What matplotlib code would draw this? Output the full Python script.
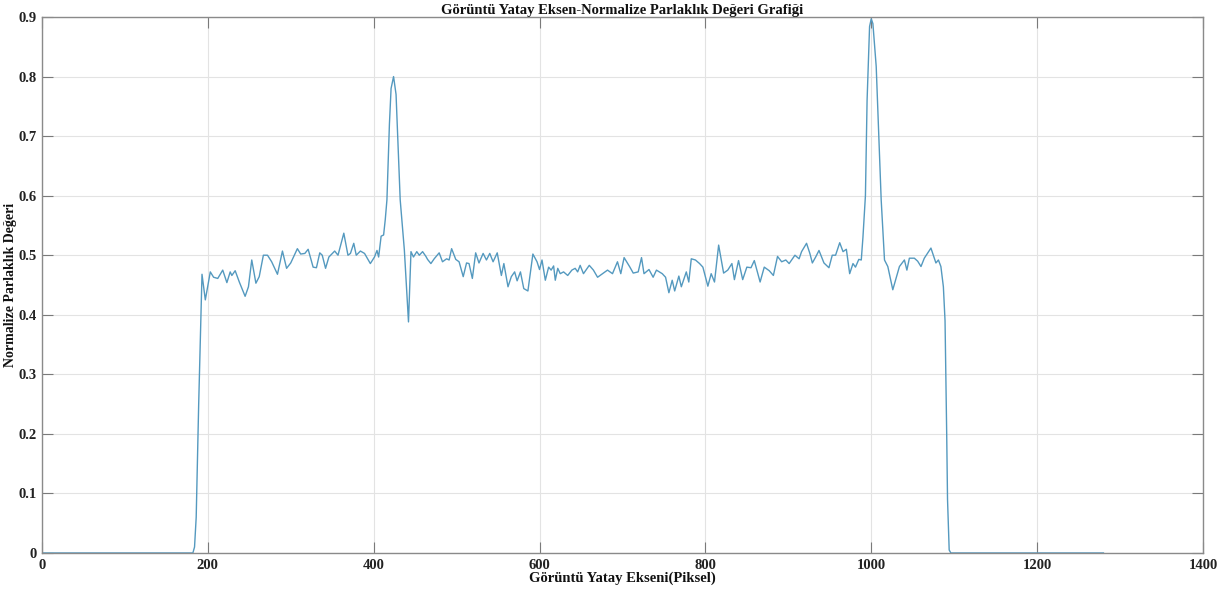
import matplotlib
matplotlib.use("Agg")
import matplotlib.pyplot as plt

title = "Görüntü Yatay Eksen-Normalize Parlaklık Değeri Grafiği"
x_label = "Görüntü Yatay Ekseni(Piksel)"
y_label = "Normalize Parlaklık Değeri"

pixel_x = [1, 182, 184, 186, 189, 193, 197, 203, 207, 212, 218, 223, 227, 229, 233, 238, 245, 249, 253, 258,
           262, 267, 272, 277, 284, 290, 295, 300, 308, 312, 317, 321, 327, 331, 335, 338, 342, 346, 353, 357,
           364, 369, 372, 376, 379, 384, 389, 396, 401, 404, 406, 409, 412, 414, 416, 419, 421, 424, 427, 429,
           432, 437, 442, 445, 448, 452, 455, 459, 463, 465, 469, 473, 479, 483, 488, 491, 494, 499, 503, 508,
           512, 515, 519, 523, 527, 532, 536, 540, 544, 549, 554, 557, 562, 566, 570, 573, 577, 581, 586, 592,
           597, 600, 603, 607, 611, 614, 617, 619, 622, 625, 629, 634, 639, 643, 646, 649, 653, 660, 665, 670,
           676, 682, 688, 694, 698, 702, 709, 713, 719, 723, 726, 732, 737, 741, 748, 752, 756, 760, 763, 768,
           771, 777, 780, 783, 788, 793, 797, 803, 807, 811, 816, 822, 827, 832, 835, 840, 845, 850, 855, 859,
           866, 871, 877, 882, 887, 892, 897, 901, 908, 913, 916, 922, 926, 929, 933, 937, 943, 949, 953, 957,
           962, 966, 970, 974, 978, 981, 985, 988, 990, 993, 995, 998, 1000, 1002, 1006, 1009, 1012, 1016, 1020, 1026,
           1034, 1040, 1043, 1046, 1052, 1056, 1060, 1064, 1072, 1078, 1081, 1084, 1087, 1089, 1091, 1092, 1094, 1096, 1280]

brightness = [0, 0, 0.01, 0.06, 0.25, 0.468, 0.425, 0.472, 0.463, 0.461, 0.475, 0.454, 0.472, 0.466, 0.474, 0.455, 0.431, 0.447, 0.492, 0.453,
              0.464, 0.5, 0.5, 0.489, 0.468, 0.507, 0.478, 0.487, 0.511, 0.502, 0.503, 0.51, 0.48, 0.479, 0.504, 0.5, 0.478, 0.497, 0.507, 0.5,
              0.537, 0.5, 0.503, 0.52, 0.5, 0.507, 0.503, 0.486, 0.497, 0.508, 0.497, 0.532, 0.534, 0.56, 0.593, 0.72, 0.78, 0.80, 0.77, 0.70,
              0.593, 0.509, 0.388, 0.506, 0.497, 0.506, 0.5, 0.506, 0.498, 0.493, 0.486, 0.494, 0.504, 0.489, 0.494, 0.492, 0.511, 0.493, 0.489, 0.464,
              0.487, 0.486, 0.461, 0.504, 0.487, 0.503, 0.492, 0.503, 0.489, 0.504, 0.466, 0.486, 0.447, 0.464, 0.472, 0.457, 0.472, 0.444, 0.44, 0.502,
              0.489, 0.476, 0.492, 0.458, 0.48, 0.475, 0.482, 0.458, 0.478, 0.469, 0.472, 0.466, 0.475, 0.478, 0.472, 0.483, 0.469, 0.483, 0.475, 0.463,
              0.469, 0.475, 0.469, 0.489, 0.469, 0.496, 0.48, 0.47, 0.472, 0.496, 0.469, 0.476, 0.463, 0.475, 0.469, 0.463, 0.437, 0.458, 0.44, 0.465,
              0.447, 0.472, 0.455, 0.494, 0.492, 0.486, 0.48, 0.448, 0.469, 0.455, 0.517, 0.47, 0.475, 0.486, 0.459, 0.491, 0.459, 0.48, 0.479, 0.491,
              0.455, 0.48, 0.474, 0.466, 0.498, 0.489, 0.492, 0.486, 0.5, 0.494, 0.506, 0.52, 0.503, 0.487, 0.497, 0.508, 0.487, 0.479, 0.5, 0.5,
              0.521, 0.506, 0.51, 0.469, 0.486, 0.48, 0.493, 0.492, 0.53, 0.6, 0.76, 0.884, 0.897, 0.889, 0.817, 0.705, 0.593, 0.492, 0.481, 0.442,
              0.481, 0.492, 0.475, 0.495, 0.495, 0.49, 0.481, 0.495, 0.512, 0.487, 0.492, 0.481, 0.447, 0.39, 0.2, 0.09, 0.005, 0, 0]

x_ticks = [0, 200, 400, 600, 800, 1000, 1200, 1400]
y_ticks = [0, 0.1, 0.2, 0.3, 0.4, 0.5, 0.6, 0.7, 0.8, 0.9]
y_tick_labels = ["0", "0.1", "0.2", "0.3", "0.4", "0.5", "0.6", "0.7", "0.8", "0.9"]

serif = ["Liberation Serif", "DejaVu Serif"]

fig = plt.figure(figsize=(12.23, 5.93), dpi=100)
ax = fig.add_axes([0.0343, 0.0675, 0.9493, 0.9038])
ax.plot(pixel_x, brightness, color="#5499bf", lw=1.0)

ax.set_xlim(0, 1400)
ax.set_ylim(0, 0.9)
ax.set_xticks(x_ticks)
ax.set_xticklabels([str(t) for t in x_ticks])
ax.set_yticks(y_ticks)
ax.set_yticklabels(y_tick_labels)
ax.grid(True, color="#e3e3e3", lw=0.8)
ax.set_axisbelow(True)
for s in ax.spines.values():
    s.set_color("#8a8a8a")
    s.set_linewidth(1.0)
ax.tick_params(direction="in", length=8, width=0.8, color="#7a7a7a",
               top=True, right=True, labelsize=10.5, pad=4)
for lab in ax.get_xticklabels() + ax.get_yticklabels():
    lab.set_family(serif)
    lab.set_fontweight("bold")
    lab.set_color("#222222")

ax.set_title(title, family=serif, fontweight="bold", fontsize=10.5, pad=2, color="#111111")
ax.set_xlabel(x_label, family=serif, fontweight="bold", fontsize=10.5, labelpad=0, color="#111111")
ax.set_ylabel(y_label, family=serif, fontweight="bold", fontsize=10, labelpad=0.5, color="#111111")

fig.savefig("out.png", dpi=100)
